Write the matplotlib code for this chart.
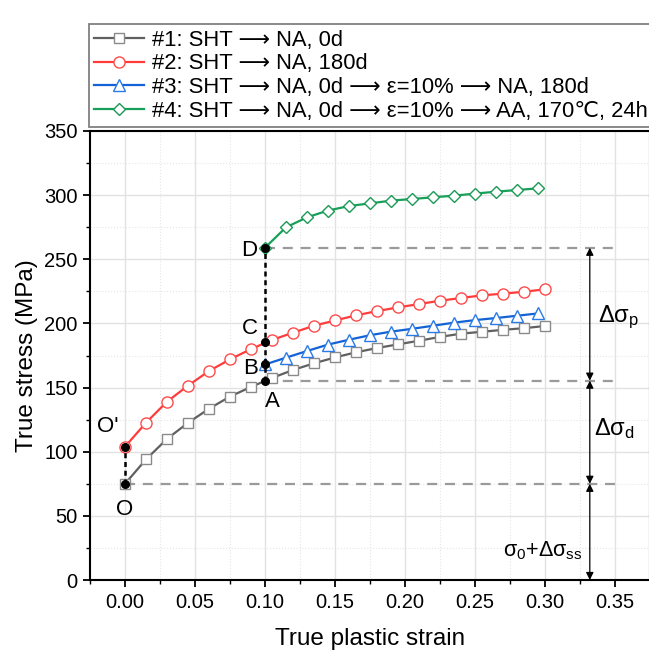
import numpy as np
import matplotlib
matplotlib.use("Agg")
import matplotlib.pyplot as plt
from matplotlib.ticker import MultipleLocator, FormatStrFormatter

plt.rcParams['font.family'] = ['Liberation Sans', 'DejaVu Sans']
plt.rcParams['mathtext.fontset'] = 'custom'
plt.rcParams['mathtext.rm'] = 'Liberation Sans'
plt.rcParams['mathtext.it'] = 'Liberation Sans:italic'
plt.rcParams['mathtext.sf'] = 'Liberation Sans'
plt.rcParams['mathtext.default'] = 'regular'

# curve data
strain_12 = [0.000, 0.015, 0.030, 0.045, 0.060, 0.075, 0.090, 0.105, 0.120, 0.135, 0.150,
             0.165, 0.180, 0.195, 0.210, 0.225, 0.240, 0.255, 0.270, 0.285, 0.300]
stress_1 = [75, 94, 110, 122.5, 133.5, 143, 150.5, 157.5, 163.7, 168.9, 173.5,
            177.5, 180.8, 183.7, 186.5, 189.5, 192, 193.5, 195, 196.3, 198]
stress_2 = [103.9, 122.6, 139, 151.5, 162.9, 172, 180, 187.1, 192.8, 198.2, 202.3,
            206.3, 209.6, 212.5, 215.1, 217.7, 219.8, 221.9, 223.2, 224.7, 226.6]
strain_34 = [0.100, 0.115, 0.130, 0.145, 0.160, 0.175, 0.190, 0.205, 0.220, 0.235,
             0.250, 0.265, 0.280, 0.295]
stress_3 = [168, 173.3, 178.5, 183.5, 187.3, 190.8, 193.6, 195.8, 198.2, 200.6,
            202.6, 204.2, 206, 207.8]
stress_4 = [259, 274.9, 282.7, 288, 291.5, 293.6, 295.7, 297, 298.3, 299.6,
            301.2, 302.7, 304, 305.3]

labels = ['#1: SHT ⟶ NA, 0d',
          '#2: SHT ⟶ NA, 180d',
          '#3: SHT ⟶ NA, 0d ⟶ ε=10% ⟶ NA, 180d',
          '#4: SHT ⟶ NA, 0d ⟶ ε=10% ⟶ AA, 170℃, 24h']

# key points O, O', A, B, C, D
pt_names = ['O', "O'", 'A', 'B', 'C', 'D']
pt_x = [0.0, 0.0, 0.1, 0.1, 0.1, 0.1]
pt_y = [75, 103.9, 155.4, 168, 185.8, 259]
name_x = [0.0, -0.012, 0.105, 0.090, 0.089, 0.089]
name_y = [55, 120, 139, 165, 196, 257]

fig = plt.figure(figsize=(6.49, 6.57), dpi=100)
ax = fig.add_axes([90 / 649, 77 / 657, 560 / 649, 449 / 657])

# curves
ax.plot(strain_12, stress_1, '-', color='#606060', lw=1.6, marker='s', ms=6.5,
        mfc='white', mec='#8a8a8a', mew=1.0, label=labels[0], zorder=3)
ax.plot(strain_12, stress_2, '-', color='#ff3b3b', lw=1.6, marker='o', ms=8,
        mfc='white', mec='#ff4a4a', mew=1.0, label=labels[1], zorder=3)
ax.plot(strain_34, stress_3, '-', color='#1463d6', lw=1.6, marker='^', ms=8.5,
        mfc='white', mec='#2a7ae8', mew=1.0, label=labels[2], zorder=3)
ax.plot(strain_34, stress_4, '-', color='#17a05a', lw=1.6, marker='D', ms=6.5,
        mfc='white', mec='#1a9a55', mew=1.0, label=labels[3], zorder=3)

# gray reference levels
ref_x_end = 0.35
ax.plot([pt_x[0], ref_x_end], [pt_y[0], pt_y[0]], color='#9a9a9a', lw=1.6,
        dashes=(4.5, 3.5), zorder=2)
ax.plot([pt_x[2], ref_x_end], [pt_y[2], pt_y[2]], color='#9a9a9a', lw=1.6,
        dashes=(4.5, 3.5), zorder=2)
ax.plot([pt_x[5], ref_x_end], [pt_y[5], pt_y[5]], color='#9a9a9a', lw=1.6,
        dashes=(4.5, 3.5), zorder=2)

# black vertical jumps
ax.plot([pt_x[0], pt_x[1]], [pt_y[0], pt_y[1]], color='black', lw=1.8,
        dashes=(2, 1.5), zorder=4)
ax.plot([pt_x[2], pt_x[5]], [pt_y[2], pt_y[5]], color='black', lw=1.8,
        dashes=(2, 1.5), zorder=4)
ax.plot(pt_x, pt_y, 'o', color='black', ms=5.5, zorder=5)

for nm, tx, ty in zip(pt_names, name_x, name_y):
    ax.text(tx, ty, nm, fontsize=16, ha='center', va='center', zorder=6)

# double arrows on the right
arrow_x = 0.332
arrow_levels = [pt_y[5], pt_y[2], pt_y[0], 0]
for top, bot in zip(arrow_levels[:-1], arrow_levels[1:]):
    ax.annotate('', xy=(arrow_x, top), xytext=(arrow_x, bot),
                arrowprops=dict(arrowstyle='<|-|>', color='black', lw=0.9,
                                mutation_scale=11, shrinkA=0, shrinkB=0),
                zorder=4)

ax.text(0.338, 205, 'Δσ$_{p}$', fontsize=17, ha='left', va='center')
ax.text(0.335, 118, 'Δσ$_{d}$', fontsize=17, ha='left', va='center')
ax.text(0.327, 23, 'σ$_{0}$+Δσ$_{ss}$', fontsize=15.5, ha='right', va='center')

# axes styling
ax.set_xlim(-0.025, 0.375)
ax.set_ylim(0, 350)
ax.xaxis.set_major_locator(MultipleLocator(0.05))
ax.xaxis.set_minor_locator(MultipleLocator(0.025))
ax.xaxis.set_major_formatter(FormatStrFormatter('%.2f'))
ax.yaxis.set_major_locator(MultipleLocator(50))
ax.yaxis.set_minor_locator(MultipleLocator(25))
ax.grid(True, which='major', color='#e2e2e2', lw=1.0, zorder=0)
ax.grid(True, which='minor', color='#e6e6e6', lw=0.8, linestyle=':', zorder=0)
ax.set_axisbelow(True)
ax.tick_params(which='major', direction='out', length=5, width=1.3, labelsize=14.5, pad=4)
ax.tick_params(which='minor', direction='out', length=3, width=1.0)
for sp in ax.spines.values():
    sp.set_linewidth(1.5)

ax.set_xlabel('True plastic strain', fontsize=17.5, labelpad=12)
ax.set_ylabel('True stress (MPa)', fontsize=17.5, labelpad=4)

leg = ax.legend(loc='lower left', bbox_to_anchor=(88.5 / 649, 1 - 127 / 657),
                bbox_transform=fig.transFigure, borderaxespad=0, fontsize=15.8,
                handlelength=2.3, handletextpad=0.33, labelspacing=0.12,
                borderpad=0.25, fancybox=False, framealpha=1, edgecolor='#808080')
leg.get_frame().set_linewidth(1.3)

fig.savefig('out.png', dpi=100)
